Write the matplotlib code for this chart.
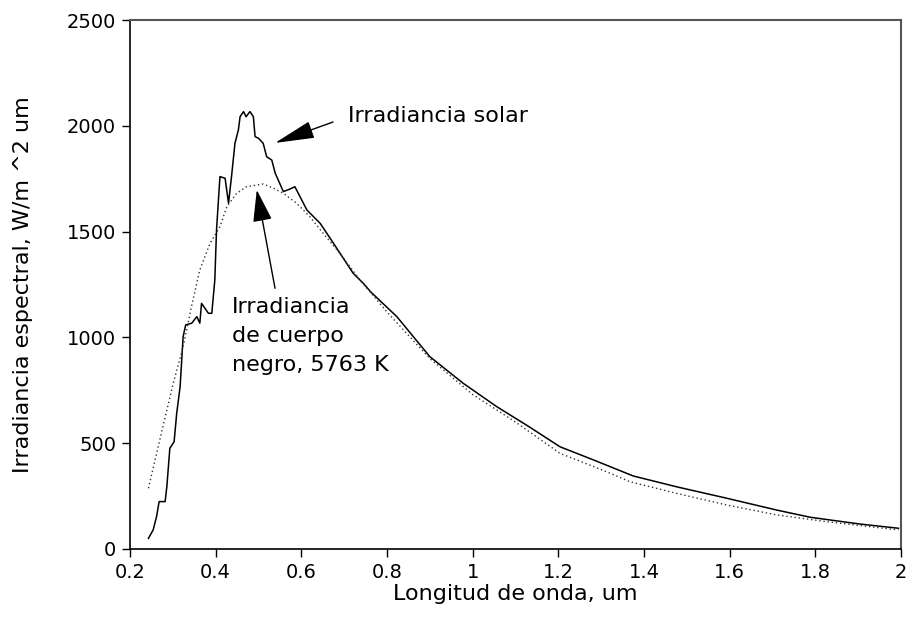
import numpy as np
import matplotlib
matplotlib.use('Agg')
import matplotlib.pyplot as plt

plt.rcParams['font.family'] = ['DejaVu Sans']

# solar spectrum (solid line)
solar_wl = [0.243, 0.254, 0.262, 0.268, 0.282, 0.286, 0.293, 0.303, 0.309, 0.317,
            0.324, 0.330, 0.344, 0.356, 0.363, 0.367, 0.383, 0.391, 0.398, 0.402,
            0.410, 0.422, 0.430, 0.437, 0.445, 0.453, 0.457, 0.465, 0.471, 0.480,
            0.488, 0.492, 0.500, 0.511, 0.519, 0.531, 0.539, 0.546, 0.558, 0.572,
            0.585, 0.613, 0.644, 0.675, 0.721, 0.745, 0.762, 0.823, 0.900, 0.978,
            1.056, 1.130, 1.204, 1.282, 1.375, 1.476, 1.593, 1.710, 1.788, 1.904,
            1.994]
solar_irr = [50, 90, 153, 224, 224, 294, 476, 507, 641, 767,
             1003, 1059, 1067, 1098, 1067, 1161, 1114, 1114, 1271, 1508,
             1760, 1752, 1634, 1760, 1917, 1980, 2043, 2067, 2043, 2067,
             2043, 1949, 1941, 1917, 1854, 1838, 1776, 1744, 1689, 1700,
             1712, 1602, 1539, 1445, 1303, 1255, 1215, 1098, 909, 783,
             673, 580, 483, 421, 345, 294, 240, 184, 150, 118,
             98]

# black body 5763 K (dotted line)
bb_wl = [0.243, 0.274, 0.301, 0.324, 0.344, 0.363, 0.387, 0.410, 0.426, 0.449,
         0.472, 0.496, 0.511, 0.535, 0.558, 0.589, 0.620, 0.651, 0.690, 0.737,
         0.800, 0.900, 1.000, 1.100, 1.204, 1.313, 1.367, 1.476, 1.593, 1.710,
         1.827, 1.994]
bb_irr = [287, 554, 783, 956, 1150, 1319, 1445, 1523, 1618, 1681,
          1712, 1720, 1725, 1705, 1681, 1634, 1570, 1492, 1397, 1271,
          1120, 900, 730, 600, 452, 365, 318, 263, 208, 161,
          129, 90]

xticks = [0.2, 0.4, 0.6, 0.8, 1.0, 1.2, 1.4, 1.6, 1.8, 2.0]
xticklabels = ['0.2', '0.4', '0.6', '0.8', '1', '1.2', '1.4', '1.6', '1.8', '2']
yticks = [0, 500, 1000, 1500, 2000, 2500]

fig = plt.figure(figsize=(9.09, 6.17), dpi=100)
ax = fig.add_axes([130 / 909, 1 - 549 / 617, 771 / 909, 529 / 617])

ax.plot(solar_wl, solar_irr, color='black', lw=1.1)
ax.plot(bb_wl, bb_irr, color='#333333', lw=1.0, linestyle=(0, (1, 2)))

ax.set_xlim(0.2, 2.0)
ax.set_ylim(0, 2500)
ax.set_xticks(xticks)
ax.set_xticklabels(xticklabels)
ax.set_yticks(yticks)
ax.tick_params(direction='out', length=6, width=1, labelsize=14, pad=4)

for s in ['left', 'bottom']:
    ax.spines[s].set_linewidth(1.2)
    ax.spines[s].set_color('black')
for s in ['top', 'right']:
    ax.spines[s].set_linewidth(1.5)
    ax.spines[s].set_color('#555555')

ax.set_xlabel('Longitud de onda, um', fontsize=16)
ax.set_ylabel('Irradiancia espectral, W/m ^2 um', fontsize=16)
ax.xaxis.set_label_coords(0.5, -0.066)
ax.yaxis.set_label_coords(-0.126, 0.5)

# annotations
ax.annotate('', xy=(0.5386, 1919), xytext=(0.674, 2018),
            arrowprops=dict(arrowstyle='-|>,head_length=2.5,head_width=0.55',
                            mutation_scale=10, color='black', lw=1.0,
                            shrinkA=0, shrinkB=0))
ax.text(0.709, 2046, 'Irradiancia solar', fontsize=16, ha='left', va='center')

ax.annotate('', xy=(0.496, 1697), xytext=(0.5386, 1232),
            arrowprops=dict(arrowstyle='-|>,head_length=2.0,head_width=0.6',
                            mutation_scale=10, color='black', lw=1.0,
                            shrinkA=0, shrinkB=0))
ax.text(0.438, 1191, 'Irradiancia\nde cuerpo\nnegro, 5763 K', fontsize=16,
        ha='left', va='top', linespacing=1.55)

fig.savefig('out.png', dpi=100)
